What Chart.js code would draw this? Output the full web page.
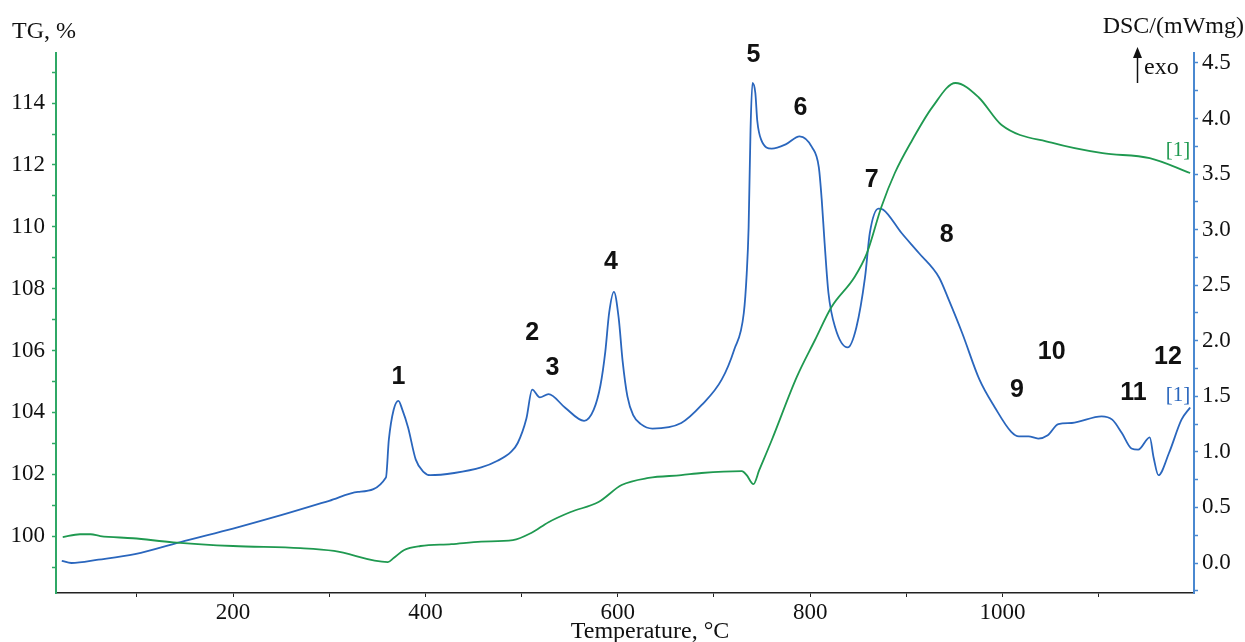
<!DOCTYPE html>
<html>
<head>
<meta charset="utf-8">
<script src="https://cdn.jsdelivr.net/npm/chart.js@4/dist/chart.umd.min.js"></script>
<style>
  html, body { margin: 0; padding: 0; background: #fff; }
  #wrap { width: 1245px; height: 642px; }
</style>
</head>
<body>
<div id="wrap"><canvas id="thermoChart" width="1245" height="642"></canvas></div>
<script>
// TG curve, temperature (°C) and mass (%)
var tgTemp = [23, 41, 52, 62, 96, 138, 200, 270, 305, 361, 367, 378, 395, 427, 458, 491, 510, 528, 551, 580, 604, 632, 666, 687, 729, 734, 741, 747, 760, 786, 805, 822, 846, 859, 874, 888, 906, 927, 951, 975, 999, 1051, 1104, 1153, 1195];
var tgValues = [99.97, 100.06, 100.06, 100.0, 99.93, 99.8, 99.68, 99.61, 99.52, 99.16, 99.29, 99.55, 99.68, 99.74, 99.82, 99.87, 100.1, 100.45, 100.78, 101.1, 101.65, 101.88, 101.97, 102.04, 102.1, 101.97, 101.68, 102.13, 103.1, 105.14, 106.34, 107.4, 108.37, 109.15, 110.64, 111.74, 112.8, 113.87, 114.65, 114.19, 113.29, 112.72, 112.38, 112.22, 111.74];

// DSC curve, temperature (°C) and heat flow (mW/mg)
var dscTemp = [22, 32, 60, 98, 150, 200, 250, 300, 330, 359, 362, 367, 372, 376, 382, 390, 398, 405, 430, 458, 475, 489, 496, 505, 511, 519, 528, 545, 565, 575, 582, 587, 591, 596, 601, 605, 610, 616, 624, 636, 666, 687, 708, 721, 731, 734, 736, 738, 740, 743, 745, 749, 760, 775, 789, 802, 809, 812, 815, 819, 826, 839, 848, 857, 862, 871, 876, 895, 913, 934, 944, 958, 976, 992, 1009, 1017, 1027, 1037, 1047, 1058, 1072, 1103, 1114, 1124, 1134, 1141, 1153, 1157, 1162, 1173, 1186, 1195];
var dscValues = [0.02, 0.0, 0.03, 0.08, 0.2, 0.31, 0.43, 0.56, 0.64, 0.77, 1.11, 1.38, 1.46, 1.38, 1.22, 0.93, 0.82, 0.79, 0.81, 0.86, 0.92, 1.0, 1.08, 1.3, 1.56, 1.49, 1.52, 1.4, 1.28, 1.38, 1.6, 1.9, 2.25, 2.44, 2.2, 1.82, 1.5, 1.33, 1.25, 1.21, 1.26, 1.42, 1.65, 1.92, 2.25, 2.6, 3.02, 3.9, 4.32, 4.23, 3.98, 3.81, 3.73, 3.77, 3.84, 3.74, 3.56, 3.27, 2.88, 2.43, 2.12, 1.94, 2.12, 2.57, 2.97, 3.19, 3.18, 2.97, 2.79, 2.57, 2.37, 2.07, 1.65, 1.4, 1.18, 1.14, 1.14, 1.12, 1.15, 1.25, 1.26, 1.32, 1.29, 1.17, 1.03, 1.02, 1.13, 0.95, 0.79, 0.99, 1.29, 1.40];

// peak numbers, placed at (temperature, DSC value)
var peakLabels = ['1', '2', '3', '4', '5', '6', '7', '8', '9', '10', '11', '12'];
var peakTemp = [372, 511, 532, 593, 741, 790, 864, 942, 1015, 1051, 1136, 1172];
var peakDsc = [1.67, 2.07, 1.75, 2.71, 4.57, 4.09, 3.45, 2.95, 1.56, 1.9, 1.53, 1.85];

var tgColor = '#1f9950';
var dscColor = '#2a66bd';
var tgAxisColor = '#2fa865';
var dscAxisColor = '#4a88d0';

function toPoints(xs, ys) {
  var pts = [];
  for (var i = 0; i < xs.length; i++) pts.push({x: xs[i], y: ys[i]});
  return pts;
}

Chart.defaults.font.family = '"Liberation Serif", "Times New Roman", serif';
Chart.defaults.color = '#111';

const extraText = {
  id: 'extraText',
  afterDraw(chart) {
    const {ctx, scales: {x, y, y2}} = chart;
    ctx.save();
    ctx.fillStyle = '#111';
    ctx.textBaseline = 'alphabetic';

    ctx.font = '24px "Liberation Serif"';
    ctx.textAlign = 'left';
    ctx.fillText('TG, %', 12, 38);
    ctx.textAlign = 'right';
    ctx.fillText('DSC/(mWmg)', 1244, 33);
    ctx.textAlign = 'center';
    ctx.fillText('Temperature, °C', 650, 638);

    // exo arrow
    ctx.textAlign = 'left';
    ctx.fillText('exo', 1144, 74);
    ctx.strokeStyle = '#111';
    ctx.lineWidth = 1.5;
    ctx.beginPath();
    ctx.moveTo(1137.5, 83);
    ctx.lineTo(1137.5, 55);
    ctx.stroke();
    ctx.beginPath();
    ctx.moveTo(1137.5, 47);
    ctx.lineTo(1133, 58);
    ctx.lineTo(1142, 58);
    ctx.closePath();
    ctx.fill();

    // peak numbers
    ctx.font = 'bold 25px "Liberation Sans"';
    ctx.textAlign = 'center';
    ctx.textBaseline = 'middle';
    for (var i = 0; i < peakLabels.length; i++) {
      ctx.fillText(peakLabels[i], x.getPixelForValue(peakTemp[i]), y2.getPixelForValue(peakDsc[i]));
    }

    // curve tags
    ctx.font = '21px "Liberation Serif"';
    ctx.textAlign = 'right';
    ctx.fillStyle = tgColor;
    ctx.fillText('[1]', x.getPixelForValue(1195), y.getPixelForValue(112.48));
    ctx.fillStyle = dscColor;
    ctx.fillText('[1]', x.getPixelForValue(1195), y2.getPixelForValue(1.51));
    ctx.restore();
  }
};

var ctxThermo = document.getElementById('thermoChart').getContext('2d');
var thermoChart = new Chart(ctxThermo, {
  type: 'line',
  data: {
    datasets: [{
      label: 'TG',
      data: toPoints(tgTemp, tgValues),
      borderColor: tgColor,
      borderWidth: 1.8,
      pointRadius: 0,
      cubicInterpolationMode: 'monotone',
      yAxisID: 'y'
    }, {
      label: 'DSC',
      data: toPoints(dscTemp, dscValues),
      borderColor: dscColor,
      borderWidth: 1.8,
      pointRadius: 0,
      cubicInterpolationMode: 'monotone',
      yAxisID: 'y2'
    }]
  },
  options: {
    responsive: false,
    animation: false,
    devicePixelRatio: 1,
    layout: { padding: { top: 53, left: 0, right: 0, bottom: 0 } },
    plugins: { legend: { display: false }, tooltip: { enabled: false } },
    scales: {
      x: {
        type: 'linear',
        min: 16,
        max: 1199,
        afterFit: function(s) { s.height = 49; },
        border: { color: '#222', width: 1.5 },
        grid: { drawOnChartArea: false, color: '#222', tickLength: 4, tickWidth: 1 },
        ticks: {
          stepSize: 100,
          includeBounds: false,
          maxRotation: 0,
          autoSkip: false,
          padding: 2,
          font: { size: 23 },
          callback: function(v) { return v % 200 === 0 ? String(v) : ''; }
        }
      },
      y: {
        position: 'left',
        min: 98.16,
        max: 115.62,
        afterFit: function(s) { s.width = 56; },
        border: { color: tgAxisColor, width: 2 },
        grid: { drawOnChartArea: false, color: tgAxisColor, tickLength: 4, tickWidth: 1.5 },
        ticks: {
          stepSize: 1,
          includeBounds: false,
          autoSkip: false,
          padding: 7,
          font: { size: 23 },
          callback: function(v) { return Math.round(v) % 2 === 0 ? String(Math.round(v)) : ''; }
        }
      },
      y2: {
        position: 'right',
        min: -0.27,
        max: 4.59,
        afterFit: function(s) { s.width = 51; },
        border: { color: dscAxisColor, width: 2 },
        grid: { drawOnChartArea: false, color: dscAxisColor, tickLength: 4, tickWidth: 1.5 },
        ticks: {
          stepSize: 0.25,
          includeBounds: false,
          autoSkip: false,
          padding: 4,
          font: { size: 23 },
          callback: function(v) {
            return Math.abs(v * 2 - Math.round(v * 2)) < 1e-6 ? v.toFixed(1) : '';
          }
        }
      }
    }
  },
  plugins: [extraText]
});
</script>
</body>
</html>
